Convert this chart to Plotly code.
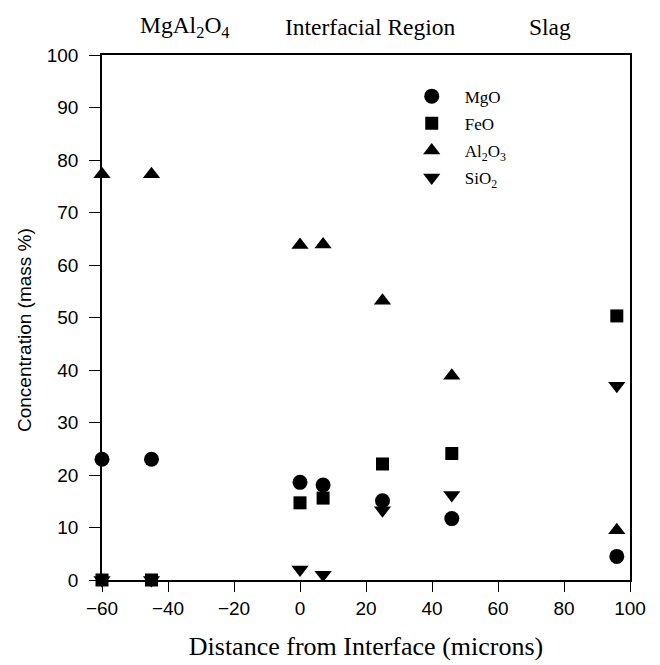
import plotly.graph_objects as go

x_mgo = [-60, -45, 0, 7, 25, 46, 96]
y_mgo = [23.0, 23.0, 18.6, 18.1, 15.1, 11.7, 4.5]
x_feo = [-60, -45, 0, 7, 25, 46, 96]
y_feo = [0.0, 0.0, 14.7, 15.6, 22.1, 24.1, 50.3]
x_al2o3 = [-60, -45, 0, 7, 25, 46, 96]
y_al2o3 = [77.3, 77.3, 63.8, 63.9, 53.2, 38.9, 9.5]
x_sio2 = [-60, -45, 0, 7, 25, 46, 96]
y_sio2 = [0.0, 0.0, 2.0, 1.0, 13.3, 16.2, 37.0]

x_ticks = [-60, -40, -20, 0, 20, 40, 60, 80, 100]
y_ticks = [0, 10, 20, 30, 40, 50, 60, 70, 80, 90, 100]

serif = "Liberation Serif, Times New Roman, serif"
sans = "Liberation Sans, Arial, sans-serif"

fig = go.Figure()
series = [
    ("SiO<sub>2</sub>", x_sio2, y_sio2, "triangle-down", 15, "d"),
    ("MgO", x_mgo, y_mgo, "circle", 15, "a"),
    ("FeO", x_feo, y_feo, "square", 13, "b"),
    ("Al<sub>2</sub>O<sub>3</sub>", x_al2o3, y_al2o3, "triangle-up", 15, "c"),
]
ranks = {"a": 1, "b": 2, "c": 3, "d": 4}
for name, xs, ys, sym, sz, grp in series:
    fig.add_trace(go.Scatter(
        x=xs, y=ys, mode="markers", name=name,
        marker=dict(symbol=sym, size=sz, color="black", line=dict(width=0)),
        cliponaxis=False, legendgroup=grp, legendrank=ranks[grp],
    ))

fig.update_layout(
    width=660, height=665,
    margin=dict(l=94, r=38, t=47, b=93),
    plot_bgcolor="white", paper_bgcolor="white",
    showlegend=True,
    legend=dict(
        x=0.562, y=0.955, xanchor="left", yanchor="top",
        font=dict(family=serif, size=17, color="black"),
        bgcolor="rgba(0,0,0,0)", tracegroupgap=2,
        traceorder="grouped", itemwidth=56,
    ),
    xaxis=dict(
        range=[-60, 100], tickvals=x_ticks, showgrid=False, zeroline=False,
        showline=True, linecolor="black", linewidth=1.5, mirror=True,
        ticks="outside", ticklen=10, tickwidth=1.2, tickcolor="black",
        tickfont=dict(family=sans, size=19, color="black"),
        title=dict(text="Distance from Interface (microns)",
                   font=dict(family=serif, size=26, color="black"), standoff=19),
    ),
    yaxis=dict(
        range=[0, 100], tickvals=y_ticks, showgrid=False, zeroline=False,
        showline=True, linecolor="black", linewidth=1.5, mirror=True,
        ticks="outside", ticklen=11, tickwidth=1.2, tickcolor="black",
        tickfont=dict(family=sans, size=19, color="black"),
        ticklabelstandoff=7,
    ),
)

# y-axis title (placed slightly below the plot's centre, as in the original)
fig.add_annotation(
    text="Concentration (mass %)", textangle=-90,
    xref="paper", yref="paper", xanchor="center", yanchor="middle",
    x=(24 - 102) / 528, y=(580 - 330) / 525, showarrow=False,
    font=dict(family=sans, size=19, color="black"),
)

titles = [("MgAl<sub>2</sub>O<sub>4</sub>", 185), ("Interfacial Region", 370), ("Slag", 550)]
for txt, px in titles:
    fig.add_annotation(
        text=txt, xref="paper", yref="paper", xanchor="center", yanchor="middle",
        x=(px - 102) / 528, y=1.0, yshift=28, showarrow=False,
        font=dict(family=serif, size=23.5, color="black"),
    )

fig.write_html("out.html")
